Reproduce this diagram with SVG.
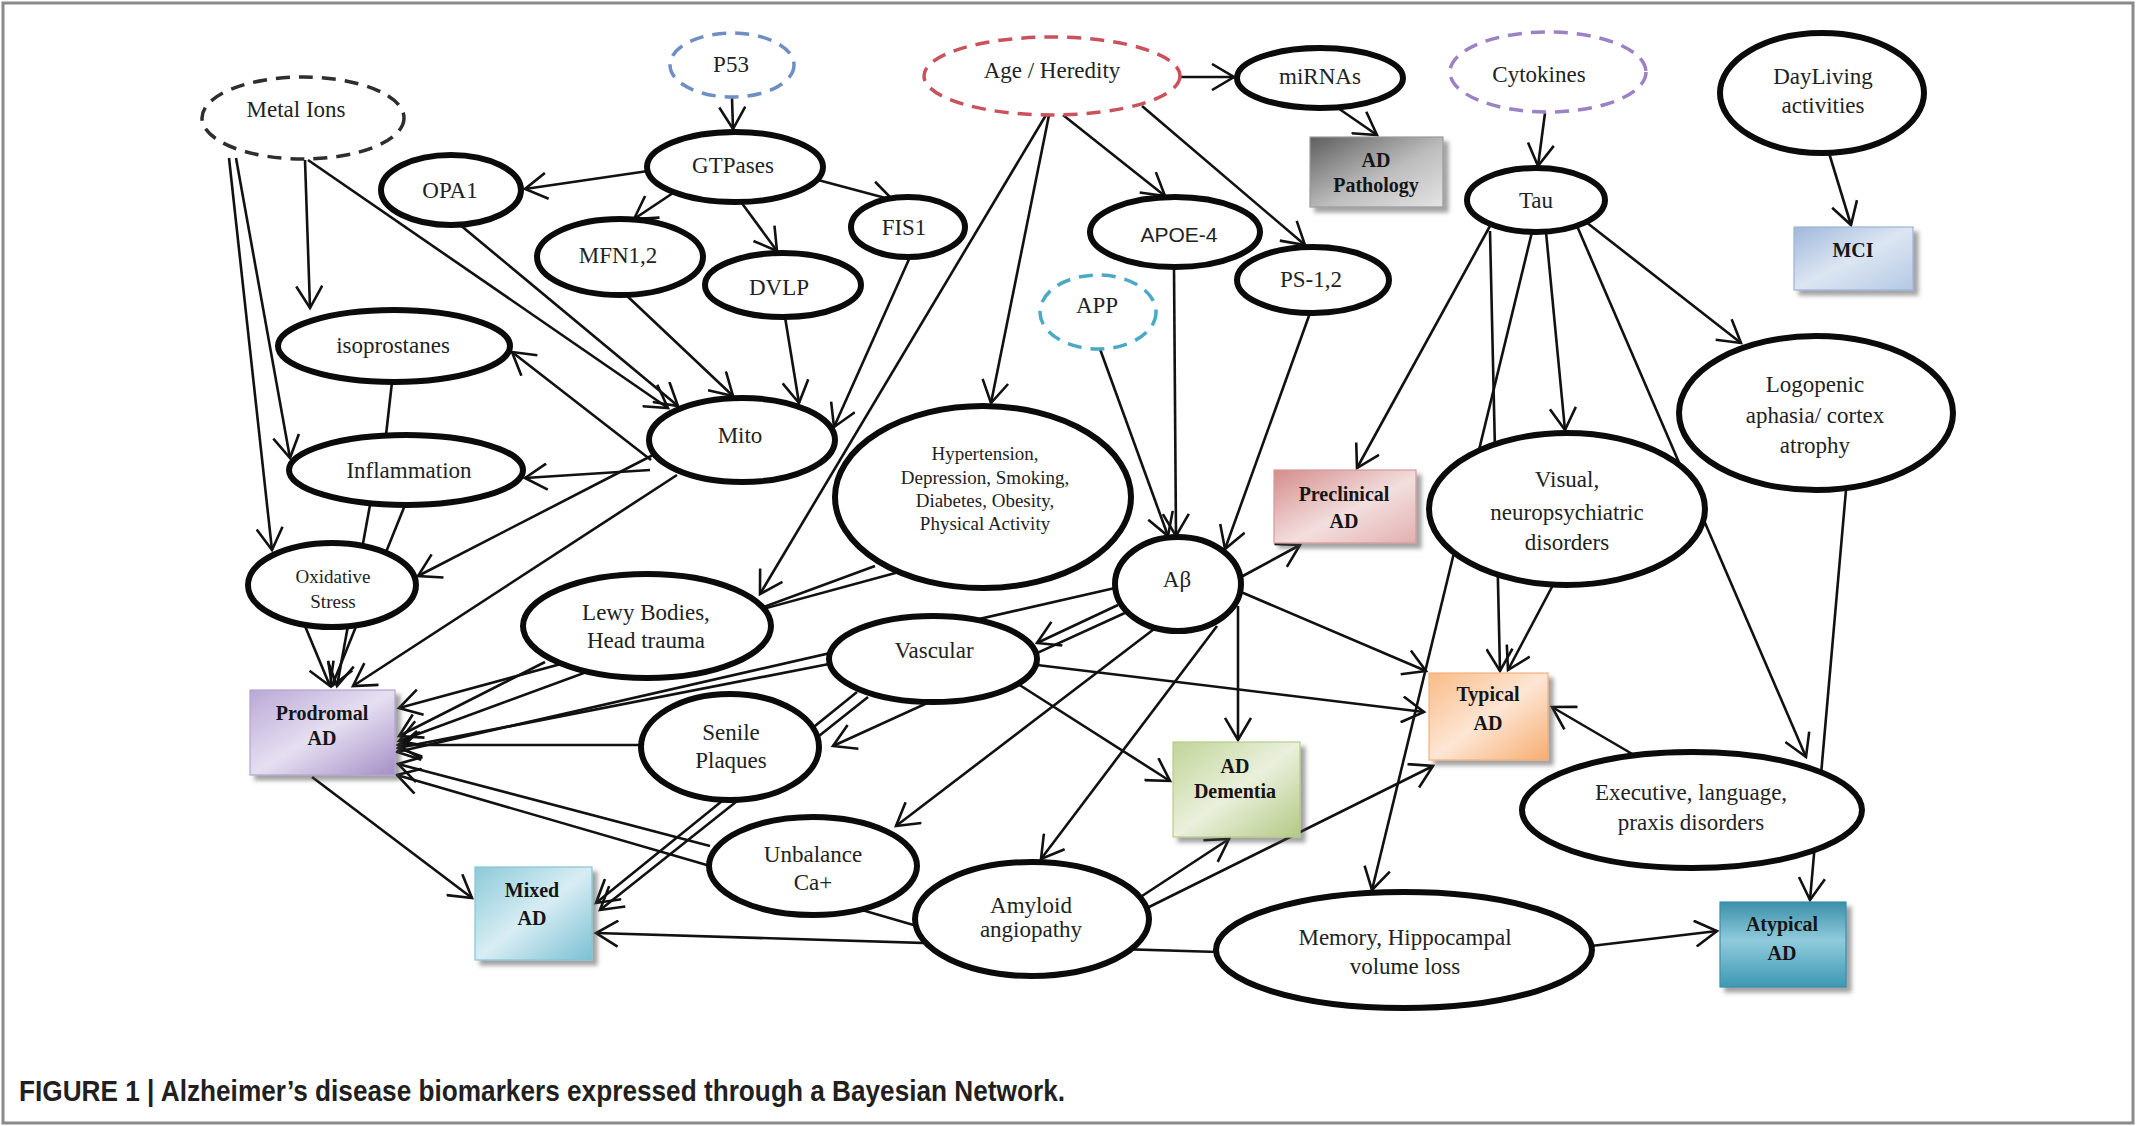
<svg xmlns="http://www.w3.org/2000/svg" width="2148" height="1126" viewBox="0 0 2148 1126">
<defs>
<style>
.n{fill:#fff;stroke:#0b0b0b;stroke-width:6}
.d{fill:#fff;stroke-width:3.5;stroke-dasharray:14 9}
.t{font-family:"Liberation Serif",serif;font-size:23px;fill:#222;text-anchor:middle}
.s{font-family:"Liberation Serif",serif;font-size:19px;fill:#222;text-anchor:middle}
.b{font-family:"Liberation Serif",serif;font-weight:bold;font-size:20px;fill:#151515;text-anchor:middle}
.sans{font-family:"Liberation Sans",sans-serif;font-size:21px;fill:#222;text-anchor:middle}
#connectors path{fill:none;stroke:#111;stroke-width:2.6;marker-end:url(#arr)}
#connectors path.nl{marker-end:none}
.r{filter:url(#sh);stroke-width:1.2}
</style>
<marker id="arr" viewBox="0 0 28 28" refX="25" refY="14" markerWidth="28" markerHeight="28" markerUnits="userSpaceOnUse" orient="auto">
<path d="M3,1 L25,14 L3,27" fill="none" stroke="#111" stroke-width="2.6"/>
</marker>
<filter id="sh" x="-10%" y="-10%" width="130%" height="130%">
<feDropShadow dx="5" dy="5" stdDeviation="2" flood-color="#444" flood-opacity="0.5"/>
</filter>
<linearGradient id="gGray" x1="0" y1="0" x2="1" y2="1"><stop offset="0" stop-color="#5e5e5e"/><stop offset="0.55" stop-color="#bdbdbd"/><stop offset="1" stop-color="#e4e4e4"/></linearGradient>
<linearGradient id="gBlue" x1="0" y1="0" x2="1" y2="1"><stop offset="0" stop-color="#9fb8db"/><stop offset="0.5" stop-color="#dce6f2"/><stop offset="1" stop-color="#b4c8e4"/></linearGradient>
<linearGradient id="gPink" x1="0" y1="0" x2="1" y2="1"><stop offset="0" stop-color="#d48c8b"/><stop offset="0.55" stop-color="#f3dede"/><stop offset="1" stop-color="#e2b0af"/></linearGradient>
<linearGradient id="gPurple" x1="0" y1="0" x2="1" y2="1"><stop offset="0" stop-color="#b9a8d6"/><stop offset="0.5" stop-color="#e6dff1"/><stop offset="1" stop-color="#a48fc6"/></linearGradient>
<linearGradient id="gOrange" x1="0" y1="0" x2="1" y2="1"><stop offset="0" stop-color="#f9bb86"/><stop offset="0.5" stop-color="#fde6d4"/><stop offset="1" stop-color="#f7ad70"/></linearGradient>
<linearGradient id="gGreen" x1="0" y1="0" x2="1" y2="1"><stop offset="0" stop-color="#c0d497"/><stop offset="0.5" stop-color="#eaf0dc"/><stop offset="1" stop-color="#b3c985"/></linearGradient>
<linearGradient id="gCyan" x1="0" y1="0" x2="1" y2="1"><stop offset="0" stop-color="#8ccad9"/><stop offset="0.5" stop-color="#d8edf3"/><stop offset="1" stop-color="#7bc0d3"/></linearGradient>
<linearGradient id="gTeal" x1="0" y1="0" x2="0" y2="1"><stop offset="0" stop-color="#3a8fa8"/><stop offset="0.45" stop-color="#8fcbdc"/><stop offset="1" stop-color="#3d98b3"/></linearGradient>
</defs>
<rect x="0" y="0" width="2148" height="1126" fill="#fff"/>
<rect x="3" y="3" width="2130" height="1120" fill="none" stroke="#8a8a8a" stroke-width="3"/>

<g id="connectors">
<path d="M732,98 L733,129"/>
<path d="M648,171 L525,189"/>
<path d="M673,193 L634,219"/>
<path d="M741,202 L777,251"/>
<path d="M818,180 L893,200"/>
<path d="M305,160 L310,308"/>
<path d="M236,158 L290,458"/>
<path d="M229,158 L272,550"/>
<path d="M308,160 L668,408"/>
<path d="M459,224 L678,406"/>
<path d="M625,294 L733,396"/>
<path d="M785,317 L799,403"/>
<path d="M910,257 L834,427"/>
<path d="M651,460 L512,352"/>
<path d="M650,470 L525,478"/>
<path d="M653,455 L418,576"/>
<path d="M677,475 L353,686"/>
<path class="nl" d="M392,382 L386,435"/>
<path d="M370,505 L337,686"/>
<path d="M405,505 L332,686"/>
<path d="M305,626 L330,686"/>
<path d="M1181,77 L1234,77"/>
<path d="M1335,106 L1377,135"/>
<path d="M1063,115 L1165,196"/>
<path d="M1142,106 L1305,245"/>
<path d="M1049,115 L991,403"/>
<path d="M1046,115 L760,594"/>
<path d="M1545,113 L1538,166"/>
<path d="M1829,153 L1851,225"/>
<path d="M1100,349 L1168,536"/>
<path d="M1174,268 L1176,536"/>
<path d="M1310,313 L1225,549"/>
<path d="M1490,226 L1357,468"/>
<path d="M1490,231 L1500,671"/>
<path d="M1532,232 L1372,890"/>
<path d="M1546,232 L1565,430"/>
<path d="M1577,226 L1806,757"/>
<path d="M1586,222 L1741,343"/>
<path d="M1846,490 L1810,900"/>
<path d="M1553,585 L1508,670"/>
<path d="M1634,755 L1552,707"/>
<path d="M1591,946 L1717,931"/>
<path d="M1218,952 L596,933"/>
<path d="M1147,908 L1433,766"/>
<path d="M1142,896 L1229,839"/>
<path d="M917,926 L397,775"/>
<path d="M710,846 L398,764"/>
<path d="M1217,626 L1041,859"/>
<path d="M1158,626 L896,826"/>
<path d="M1238,606 L1238,740"/>
<path d="M1241,577 L1300,545"/>
<path d="M1241,592 L1426,671"/>
<path d="M1118,605 L1037,643"/>
<path d="M1115,588 L397,752"/>
<path d="M1127,612 L833,746"/>
<path d="M829,664 L398,748"/>
<path d="M1037,665 L1424,712"/>
<path d="M1018,684 L1170,781"/>
<path d="M857,692 L596,903"/>
<path d="M868,697 L600,910"/>
<path d="M640,745 L398,745"/>
<path d="M545,662 L399,736"/>
<path d="M875,566 L399,741"/>
<path d="M899,572 L399,708"/>
<path d="M312,777 L472,898"/>
</g>

<g id="nodes">
<g id="metal-ions"><ellipse class="d" stroke="#2e2e2e" cx="303" cy="118" rx="101" ry="41"/><text class="t" x="296" y="117">Metal Ions</text></g>
<g id="p53"><ellipse class="d" stroke="#6f8fc4" cx="732" cy="65" rx="62" ry="32"/><text class="t" x="731" y="72">P53</text></g>
<g id="gtpases"><ellipse class="n" cx="735" cy="167" rx="88" ry="35"/><text class="t" x="733" y="173">GTPases</text></g>
<g id="opa1"><ellipse class="n" cx="451" cy="190" rx="70" ry="35"/><text class="t" x="450" y="198">OPA1</text></g>
<g id="mfn12"><ellipse class="n" cx="620" cy="257" rx="83" ry="38"/><text class="t" x="618" y="263">MFN1,2</text></g>
<g id="dvlp"><ellipse class="n" cx="783" cy="285" rx="78" ry="32"/><text class="t" x="779" y="295">DVLP</text></g>
<g id="fis1"><ellipse class="n" cx="908" cy="227" rx="57" ry="30"/><text class="t" x="904" y="235">FIS1</text></g>
<g id="age-heredity"><ellipse class="d" stroke="#c9525c" cx="1052" cy="76" rx="128" ry="39"/><text class="t" x="1052" y="78">Age / Heredity</text></g>
<g id="mirnas"><ellipse class="n" cx="1320" cy="78" rx="83" ry="30"/><text class="t" x="1320" y="84">miRNAs</text></g>
<g id="cytokines"><ellipse class="d" stroke="#9a82c4" cx="1548" cy="72" rx="98" ry="40"/><text class="t" x="1539" y="82">Cytokines</text></g>
<g id="dayliving"><ellipse class="n" cx="1822" cy="93" rx="102" ry="60"/><text class="t" x="1823" y="84">DayLiving</text><text class="t" x="1823" y="113">activities</text></g>
<g id="tau"><ellipse class="n" cx="1536" cy="200" rx="69" ry="32"/><text class="t" x="1536" y="208">Tau</text></g>
<g id="apoe4"><ellipse class="n" cx="1175" cy="232" rx="85" ry="35"/><text class="sans" x="1179" y="242">APOE-4</text></g>
<g id="ps12"><ellipse class="n" cx="1313" cy="280" rx="76" ry="33"/><text class="t" x="1311" y="287">PS-1,2</text></g>
<g id="app"><ellipse class="d" stroke="#4aaac6" cx="1098" cy="312" rx="58" ry="37"/><text class="t" x="1097" y="313">APP</text></g>
<g id="isoprostanes"><ellipse class="n" cx="394" cy="346" rx="116" ry="36"/><text class="t" x="393" y="353">isoprostanes</text></g>
<g id="inflammation"><ellipse class="n" cx="406" cy="470" rx="117" ry="35"/><text class="t" x="409" y="478">Inflammation</text></g>
<g id="oxidative-stress"><ellipse class="n" cx="332" cy="585" rx="84" ry="42"/><text class="s" x="333" y="583">Oxidative</text><text class="s" x="333" y="608">Stress</text></g>
<g id="mito"><ellipse class="n" cx="742" cy="440" rx="93" ry="42"/><text class="t" x="740" y="443">Mito</text></g>
<g id="lewy-bodies"><ellipse class="n" cx="647" cy="626" rx="124" ry="52"/><text class="t" x="646" y="620">Lewy Bodies,</text><text class="t" x="646" y="648">Head trauma</text></g>
<g id="hypertension"><ellipse class="n" cx="983" cy="497" rx="148" ry="91"/><text class="s" x="985" y="460">Hypertension,</text><text class="s" x="985" y="484">Depression, Smoking,</text><text class="s" x="985" y="507">Diabetes, Obesity,</text><text class="s" x="985" y="530">Physical Activity</text></g>
<g id="abeta"><ellipse class="n" cx="1178" cy="584" rx="63" ry="47"/><text class="t" x="1177" y="587">Aβ</text></g>
<g id="vascular"><ellipse class="n" cx="933" cy="659" rx="104" ry="43"/><text class="t" x="934" y="658">Vascular</text></g>
<g id="senile-plaques"><ellipse class="n" cx="730" cy="747" rx="89" ry="53"/><text class="t" x="731" y="740">Senile</text><text class="t" x="731" y="768">Plaques</text></g>
<g id="unbalance-ca"><ellipse class="n" cx="813" cy="866" rx="104" ry="49"/><text class="t" x="813" y="862">Unbalance</text><text class="t" x="813" y="890">Ca+</text></g>
<g id="amyloid-angiopathy"><ellipse class="n" cx="1032" cy="919" rx="117" ry="57"/><text class="t" x="1031" y="913">Amyloid</text><text class="t" x="1031" y="937">angiopathy</text></g>
<g id="memory"><ellipse class="n" cx="1404" cy="950" rx="188" ry="58"/><text class="t" x="1405" y="945">Memory, Hippocampal</text><text class="t" x="1405" y="974">volume loss</text></g>
<g id="executive"><ellipse class="n" cx="1692" cy="810" rx="170" ry="58"/><text class="t" x="1691" y="800">Executive, language,</text><text class="t" x="1691" y="830">praxis disorders</text></g>
<g id="visual"><ellipse class="n" cx="1567" cy="509" rx="138" ry="76"/><text class="t" x="1567" y="487">Visual,</text><text class="t" x="1567" y="520">neuropsychiatric</text><text class="t" x="1567" y="550">disorders</text></g>
<g id="logopenic"><ellipse class="n" cx="1816" cy="413" rx="137" ry="77"/><text class="t" x="1815" y="392">Logopenic</text><text class="t" x="1815" y="423">aphasia/ cortex</text><text class="t" x="1815" y="453">atrophy</text></g>

<g id="ad-pathology"><rect class="r" x="1310" y="137" width="133" height="70" fill="url(#gGray)" stroke="#9a9a9a"/><text class="b" x="1376" y="167">AD</text><text class="b" x="1376" y="192">Pathology</text></g>
<g id="mci"><rect class="r" x="1794" y="227" width="119" height="63" fill="url(#gBlue)" stroke="#9bb3d6"/><text class="b" x="1853" y="257">MCI</text></g>
<g id="preclinical-ad"><rect class="r" x="1274" y="470" width="142" height="73" fill="url(#gPink)" stroke="#d49a9a"/><text class="b" x="1344" y="501">Preclinical</text><text class="b" x="1344" y="528">AD</text></g>
<g id="prodromal-ad"><rect class="r" x="250" y="690" width="145" height="85" fill="url(#gPurple)" stroke="#b3a3d0"/><text class="b" x="322" y="720">Prodromal</text><text class="b" x="322" y="745">AD</text></g>
<g id="typical-ad"><rect class="r" x="1429" y="673" width="119" height="87" fill="url(#gOrange)" stroke="#f3b07c"/><text class="b" x="1488" y="701">Typical</text><text class="b" x="1488" y="730">AD</text></g>
<g id="ad-dementia"><rect class="r" x="1173" y="742" width="127" height="95" fill="url(#gGreen)" stroke="#b8cc8c"/><text class="b" x="1235" y="773">AD</text><text class="b" x="1235" y="798">Dementia</text></g>
<g id="mixed-ad"><rect class="r" x="475" y="867" width="117" height="93" fill="url(#gCyan)" stroke="#86c4d6"/><text class="b" x="532" y="897">Mixed</text><text class="b" x="532" y="925">AD</text></g>
<g id="atypical-ad"><rect class="r" x="1720" y="902" width="126" height="85" fill="url(#gTeal)" stroke="#3a8fa8"/><text class="b" x="1782" y="931" fill="#0f2c3c">Atypical</text><text class="b" x="1782" y="960" fill="#0f2c3c">AD</text></g>
</g>

<text x="19" y="1101" font-family="Liberation Sans, Arial, sans-serif" font-weight="bold" font-size="30" fill="#231f20" textLength="1046" lengthAdjust="spacingAndGlyphs">FIGURE 1 | Alzheimer’s disease biomarkers expressed through a Bayesian Network.</text>
</svg>
